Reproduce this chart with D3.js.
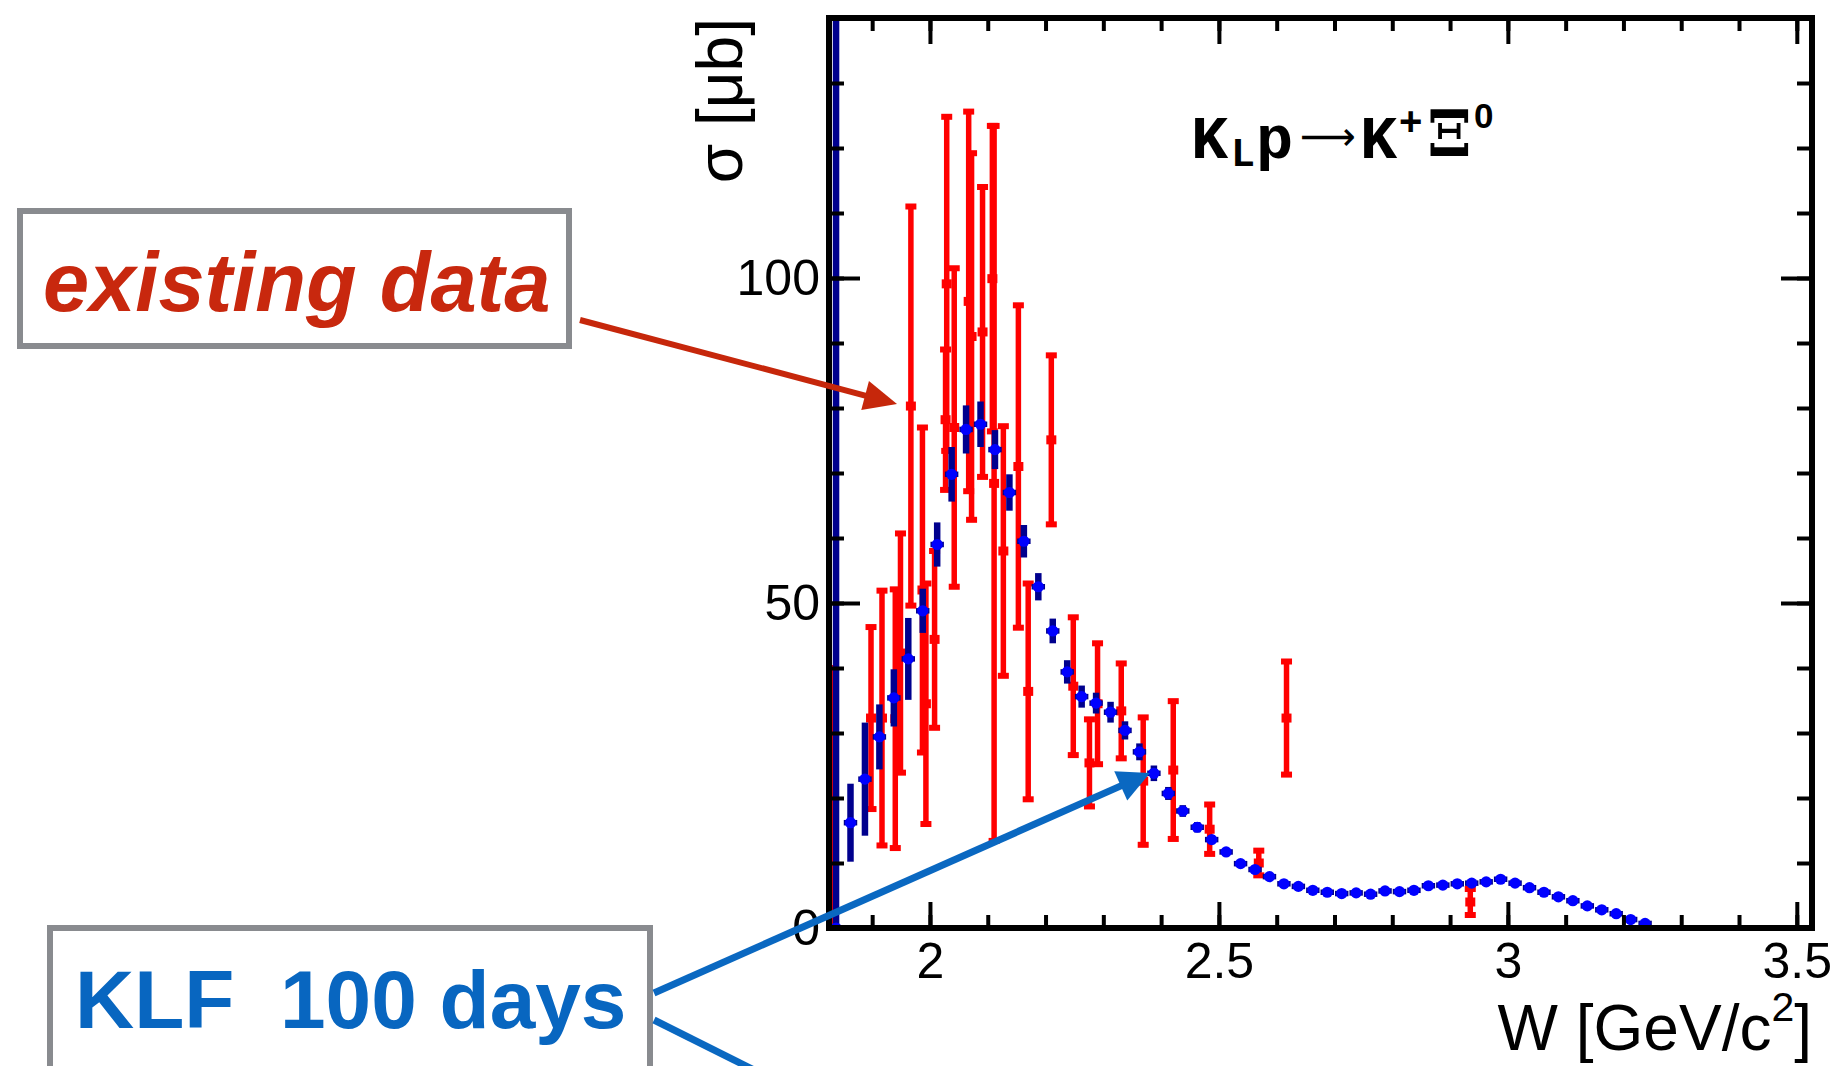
<!DOCTYPE html>
<html><head><meta charset="utf-8">
<script src="https://cdn.jsdelivr.net/npm/d3@7"></script>
<style>body{margin:0;background:#fff;} svg{display:block;}</style>
</head><body>
<svg id="c" width="1839" height="1066"></svg>
<script>
// ---- KLF 100 days projection (blue) ----
const klfW = [1.8375,1.8625,1.8875,1.9125,1.9375,1.9625,1.9875,2.0125,2.0375,2.0625,2.0875,2.1125,2.1375,2.1625,2.1875,2.2125,2.2375,2.2625,2.2875,2.3125,2.3375,2.3625,2.3875,2.4125,2.4375,2.4625,2.4875,2.5125,2.5375,2.5625,2.5875,2.6125,2.6375,2.6625,2.6875,2.7125,2.7375,2.7625,2.7875,2.8125,2.8375,2.8625,2.8875,2.9125,2.9375,2.9625,2.9875,3.0125,3.0375,3.0625,3.0875,3.1125,3.1375,3.1625,3.1875,3.2125,3.2375];
const klfSigma = [0,16.2,22.9,29.4,35.4,41.4,48.8,59.0,69.8,76.7,77.5,73.6,67.0,59.5,52.5,45.7,39.4,35.6,34.6,33.2,30.4,27.1,23.8,20.7,18.0,15.5,13.6,11.7,9.9,9.0,7.9,6.8,6.4,5.8,5.5,5.3,5.4,5.2,5.7,5.6,5.8,6.5,6.6,6.8,6.9,7.1,7.5,6.9,6.2,5.5,4.8,4.2,3.4,2.8,2.2,1.3,0.7];
const klfErr = [300,6.0,8.7,5.0,4.4,6.3,3.4,3.4,4.2,3.7,3.5,3.0,2.8,2.5,2.1,1.9,1.8,1.7,1.6,1.6,1.4,1.3,1.2,1.0,0.9,0.8,0.7,0.6,0.5,0.5,0.4,0.4,0.4,0.3,0.3,0.3,0.3,0.3,0.3,0.3,0.3,0.3,0.3,0.3,0.3,0.3,0.3,0.3,0.3,0.3,0.3,0.3,0.3,0.3,0.3,0.3,0.3];
const klfHalfBin = 0.0125;

// ---- existing data (red) ----
const oldW = [1.831,1.898,1.917,1.940,1.949,1.967,1.987,1.993,2.008,2.027,2.029,2.042,2.067,2.072,2.091,2.108,2.111,2.127,2.153,2.170,2.210,2.248,2.276,2.290,2.331,2.369,2.421,2.484,2.569,2.617,2.935];
const oldSigma = [4.0,32.3,32.3,32.2,42.3,80.3,52.0,34.5,44.4,78.2,99.1,77.0,96.4,91.0,91.7,99.9,68.4,58.0,71.0,36.4,75.1,37.2,25.4,34.5,33.4,22.6,24.3,15.2,10.0,32.3,4.0];
const oldErr = [36.0,14.0,19.6,19.9,18.4,30.7,25.0,18.5,13.6,10.8,25.7,24.5,29.2,28.2,22.3,23.5,55.0,19.2,24.8,16.6,13.0,10.6,6.7,9.3,7.3,9.8,10.6,3.8,1.9,8.7,2.0];

// ---- axes ----
const xDomain = [1.8253, 3.5263];
const yDomain = [0, 140];
const xMajorTicks = [2, 2.5, 3, 3.5];
const xTickLabels = ["2", "2.5", "3", "3.5"];
const xMinorTicks = d3.range(19, 36).map(v => v / 10);
const yMajorTicks = [0, 50, 100];
const yTickLabels = ["0", "50", "100"];
const yMinorTicks = d3.range(0, 141, 10);

const L = 829, R = 1812, T = 18, B = 928;
const svg = d3.select("#c");
const x = d3.scaleLinear().domain(xDomain).range([L, R]);
const y = d3.scaleLinear().domain(yDomain).range([B, T]);
const font = "'Liberation Sans', Arial, Helvetica, sans-serif";

svg.append("defs").append("clipPath").attr("id", "clip")
  .append("rect").attr("x", L).attr("y", T).attr("width", R - L).attr("height", B - T);

const plot = svg.append("g").attr("clip-path", "url(#clip)");

// red points
const red = "#ff0000";
const oldData = oldW.map((w, i) => ({w, s: oldSigma[i], e: oldErr[i]}));
const rg = plot.append("g");
rg.selectAll("line.eb").data(oldData).join("line")
  .attr("x1", d => x(d.w)).attr("x2", d => x(d.w))
  .attr("y1", d => y(d.s + d.e)).attr("y2", d => y(d.s - d.e))
  .attr("stroke", red).attr("stroke-width", 5.5);
rg.selectAll("rect.capT").data(oldData).join("rect")
  .attr("x", d => x(d.w) - 5.5).attr("y", d => y(d.s + d.e) - 3)
  .attr("width", 11).attr("height", 6).attr("fill", red);
rg.selectAll("rect.capB").data(oldData).join("rect")
  .attr("x", d => x(d.w) - 5.5).attr("y", d => y(d.s - d.e) - 3)
  .attr("width", 11).attr("height", 6).attr("fill", red);
rg.selectAll("rect.mk").data(oldData).join("rect")
  .attr("x", d => x(d.w) - 5).attr("y", d => y(d.s) - 4.5)
  .attr("width", 10).attr("height", 9).attr("fill", red);

// blue points
const navy = "#00008e", blue = "#0000ff";
const klfData = klfW.map((w, i) => ({w, s: klfSigma[i], e: klfErr[i]}));
const bg = plot.append("g");
bg.selectAll("line.ex").data(klfData).join("line")
  .attr("x1", d => x(d.w - klfHalfBin) + 0.5).attr("x2", d => x(d.w + klfHalfBin) - 0.5)
  .attr("y1", d => y(d.s)).attr("y2", d => y(d.s))
  .attr("stroke", navy).attr("stroke-width", 5.5);
bg.selectAll("line.ey").data(klfData).join("line")
  .attr("x1", d => x(d.w)).attr("x2", d => x(d.w))
  .attr("y1", d => y(d.s + d.e)).attr("y2", d => y(d.s - d.e))
  .attr("stroke", navy).attr("stroke-width", 6.5);
bg.selectAll("circle").data(klfData).join("circle")
  .attr("cx", d => x(d.w)).attr("cy", d => y(d.s)).attr("r", 5.6)
  .attr("fill", blue);

// frame and ticks
const ax = svg.append("g").attr("font-family", font);
function styleAxis(g) {
  g.select(".domain").remove();
  g.selectAll(".tick line").attr("stroke", "#000").attr("stroke-width", 4);
  g.selectAll(".tick text").attr("font-size", 50).attr("fill", "#000").attr("font-family", font);
}
ax.append("g").attr("transform", `translate(0,${B})`)
  .call(d3.axisBottom(x).tickValues(xMinorTicks).tickSizeInner(-13).tickSizeOuter(0).tickFormat(""))
  .call(styleAxis);
ax.append("g").attr("transform", `translate(0,${B})`)
  .call(d3.axisBottom(x).tickValues(xMajorTicks).tickSizeInner(-26).tickSizeOuter(0).tickPadding(14)
    .tickFormat((d, i) => xTickLabels[i]))
  .call(styleAxis);
ax.append("g").attr("transform", `translate(0,${T})`)
  .call(d3.axisTop(x).tickValues(xMinorTicks).tickSizeInner(-13).tickSizeOuter(0).tickFormat(""))
  .call(styleAxis);
ax.append("g").attr("transform", `translate(0,${T})`)
  .call(d3.axisTop(x).tickValues(xMajorTicks).tickSizeInner(-26).tickSizeOuter(0).tickFormat(""))
  .call(styleAxis);
ax.append("g").attr("transform", `translate(${L},0)`)
  .call(d3.axisLeft(y).tickValues(yMinorTicks).tickSizeInner(-15).tickSizeOuter(0).tickFormat(""))
  .call(styleAxis);
ax.append("g").attr("transform", `translate(${L},0)`)
  .call(d3.axisLeft(y).tickValues(yMajorTicks).tickSizeInner(-31).tickSizeOuter(0).tickPadding(9)
    .tickFormat((d, i) => yTickLabels[i]))
  .call(styleAxis);
ax.append("g").attr("transform", `translate(${R},0)`)
  .call(d3.axisRight(y).tickValues(yMinorTicks).tickSizeInner(-15).tickSizeOuter(0).tickFormat(""))
  .call(styleAxis);
ax.append("g").attr("transform", `translate(${R},0)`)
  .call(d3.axisRight(y).tickValues(yMajorTicks).tickSizeInner(-31).tickSizeOuter(0).tickFormat(""))
  .call(styleAxis);

svg.append("rect").attr("x", L).attr("y", T).attr("width", R - L).attr("height", B - T)
  .attr("fill", "none").attr("stroke", "#000").attr("stroke-width", 6);

// axis titles
const xt = svg.append("text").attr("x", R).attr("y", 1050).attr("text-anchor", "end")
  .attr("font-family", font).attr("font-size", 64).attr("fill", "#000");
xt.append("tspan").text("W [GeV/c");
xt.append("tspan").attr("font-size", 41).attr("dy", -29).text("2");
xt.append("tspan").attr("dy", 29).text("]");

svg.append("text").attr("transform", "translate(742,18) rotate(-90)")
  .attr("text-anchor", "end").attr("font-family", font).attr("font-size", 64).attr("fill", "#000")
  .text("σ [μb]");

// reaction label
const mono = "'Liberation Mono', 'DejaVu Sans Mono', monospace";
const tl = svg.append("g").attr("fill", "#000");
tl.append("text").attr("x", 1191).attr("y", 158).attr("font-family", mono).attr("font-weight", "bold").attr("font-size", 62).text("K");
tl.append("text").attr("x", 1231).attr("y", 166).attr("font-family", mono).attr("font-weight", "bold").attr("font-size", 40).text("L");
tl.append("text").attr("x", 1256).attr("y", 158).attr("font-family", mono).attr("font-weight", "bold").attr("font-size", 62).text("p");
tl.append("text").attr("x", 1300).attr("y", 150).attr("font-family", "'DejaVu Sans'").attr("font-size", 40)
  .attr("textLength", 56).attr("lengthAdjust", "spacingAndGlyphs").text("⟶");
tl.append("text").attr("x", 1360).attr("y", 158).attr("font-family", mono).attr("font-weight", "bold").attr("font-size", 62).text("K");
tl.append("text").attr("x", 1399).attr("y", 135).attr("font-family", font).attr("font-weight", "bold").attr("font-size", 40).text("+");
tl.append("text").attr("x", 1427).attr("y", 156).attr("font-family", "'DejaVu Serif', 'Liberation Serif', serif").attr("font-weight", "bold").attr("font-size", 64).text("Ξ");
tl.append("text").attr("x", 1474).attr("y", 128).attr("font-family", font).attr("font-weight", "bold").attr("font-size", 35).text("0");

// annotations
const gray = "#898b8f";
function arrow(g, x0, y0, x1, y1, color, w, hl, hw) {
  const dx = x1 - x0, dy = y1 - y0, len = Math.hypot(dx, dy), ux = dx / len, uy = dy / len;
  const bx = x1 - ux * hl, by = y1 - uy * hl;
  g.append("line").attr("x1", x0).attr("y1", y0).attr("x2", bx + ux * 2).attr("y2", by + uy * 2)
    .attr("stroke", color).attr("stroke-width", w);
  g.append("polygon").attr("points",
    `${x1},${y1} ${bx - uy * hw},${by + ux * hw} ${bx + uy * hw},${by - ux * hw}`).attr("fill", color);
}
const an = svg.append("g");
an.append("rect").attr("x", 20).attr("y", 211).attr("width", 549).attr("height", 135)
  .attr("fill", "#fff").attr("stroke", gray).attr("stroke-width", 6);
an.append("text").attr("x", 43).attr("y", 311).attr("font-family", font).attr("font-weight", "bold")
  .attr("font-style", "italic").attr("font-size", 83).attr("fill", "#c8280e").text("existing data");
arrow(an, 580, 320, 897, 404, "#c6270b", 6, 33, 15);

an.append("rect").attr("x", 50).attr("y", 928).attr("width", 600).attr("height", 200)
  .attr("fill", "#fff").attr("stroke", gray).attr("stroke-width", 6);
an.append("text").attr("x", 75).attr("y", 1028).attr("font-family", font).attr("font-weight", "bold")
  .attr("font-size", 82).attr("fill", "#0866c0").text("KLF\u00a0\u00a0100 days");
const lb = "#0a68c1";
arrow(an, 654, 993, 1150, 773, lb, 7, 32, 16);
an.append("line").attr("x1", 654).attr("y1", 1020).attr("x2", 800).attr("y2", 1093)
  .attr("stroke", lb).attr("stroke-width", 7);
</script>
</body></html>
